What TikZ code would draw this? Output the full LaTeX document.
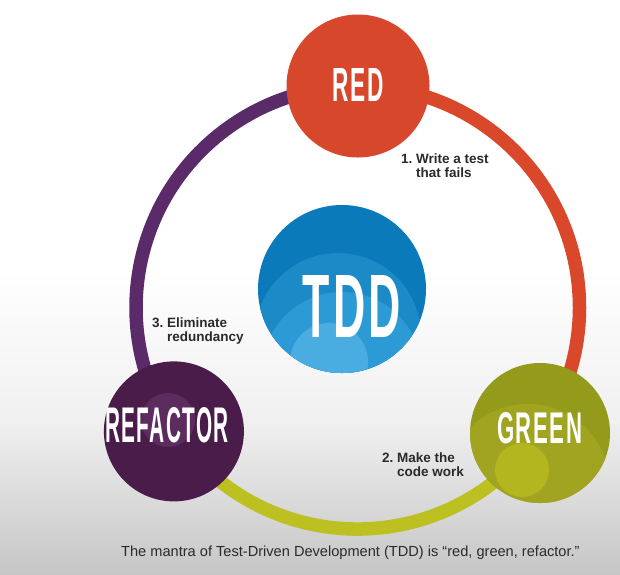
\documentclass[tikz,border=0pt]{standalone}
\usepackage{fontspec}
\setmainfont{Liberation Sans}
\newfontfamily\headfont[LetterSpace=7]{Liberation Sans}
\definecolor{bggray}{HTML}{C6C6C6}
\definecolor{bgmid}{HTML}{F0F0F0}
\definecolor{redc}{HTML}{D6472B}
\definecolor{ringorange}{HTML}{D9482A}
\definecolor{ringyellow}{HTML}{BDC021}
\definecolor{ringpurple}{HTML}{5A2B68}
\definecolor{refc}{HTML}{4A1C4A}
\definecolor{refin}{HTML}{5B2C5D}
\definecolor{greenc}{HTML}{949A1A}
\definecolor{greenl}{HTML}{A0A421}
\definecolor{greenin}{HTML}{B3B61F}
\definecolor{tdda}{HTML}{0A7ABA}
\definecolor{tddb}{HTML}{1B8AC7}
\definecolor{tddc}{HTML}{2C9AD4}
\definecolor{tddd}{HTML}{4AADE2}
\definecolor{labelgray}{HTML}{2A2A2A}
\newcommand\headtext[3]{\resizebox{#1pt}{#2pt}{\headfont\bfseries #3}}
\begin{document}
\begin{tikzpicture}[x=1pt,y=-1pt,
  ringline/.style={line width=13.5pt},
  bigdot/.style={circle, inner sep=0pt, draw=none},
  headtxt/.style={text=white, inner sep=0pt, anchor=base},
  lbl/.style={font=\fontsize{13.5}{14.5}\selectfont\bfseries, text=labelgray, inner sep=0pt, anchor=base west, align=left}]
\useasboundingbox (0,0) rectangle (620,574);
% background
\fill[white] (0,0) rectangle (620,270);
\shade[top color=white, bottom color=bggray, middle color=bgmid] (0,269) rectangle (620,574);
% node positions
\coordinate (redp) at (358,86);
\coordinate (greenp) at (540,433);
\coordinate (refp) at (173.9,431.4);
% ring
\draw[ringline, ringorange] (redp) arc[start angle=90, end angle=-34.5, radius=221.5pt];
\draw[ringline, ringyellow] (greenp) arc[start angle=-34.5, end angle=-146, radius=221.5pt];
\draw[ringline, ringpurple] (refp) arc[start angle=214, end angle=90, radius=221.5pt];
% red
\node[bigdot, fill=redc, minimum size=143pt] (red) at (redp) {};
\node[headtxt] (redtxt) at (358,101) {\headtext{51}{33}{RED}};
% refactor
\node[bigdot, fill=refc, minimum size=140pt] (refactor) at (refp) {};
\begin{scope}
\clip (refactor.center) circle[radius=70pt];
\fill[refin] (168,420) circle[radius=27pt];
\end{scope}
\node[headtxt] (reftxt) at (167,442) {\headtext{124}{35}{REFACTOR}};
% green
\node[bigdot, fill=greenc, minimum size=140pt] (green) at (greenp) {};
\begin{scope}
\clip (green.center) circle[radius=70pt];
\fill[greenl] (528,486) circle[radius=82pt];
\fill[greenin] (522,470) circle[radius=27pt];
\end{scope}
\node[headtxt] (greentxt) at (539.5,443) {\headtext{85}{31}{GREEN}};
% TDD
\node[bigdot, fill=tdda, minimum size=168pt] (tdd) at (342,289) {};
\begin{scope}
\clip (tdd.center) circle[radius=84pt];
\fill[tddb] (338,336) circle[radius=83pt];
\fill[tddc] (342,372) circle[radius=80pt];
\fill[tddd] (329,362) circle[radius=39pt];
\end{scope}
\node[headtxt] (tddtxt) at (352,337) {\headtext{98}{62}{TDD}};
% labels
\node[lbl] (l1) at (401,163) {1.\ \begin{tabular}[t]{@{}l@{}}Write a test\\that fails\end{tabular}};
\node[lbl] (l2) at (382,462) {2.\ \begin{tabular}[t]{@{}l@{}}Make the\\code work\end{tabular}};
\node[lbl] (l3) at (152,327) {3.\ \begin{tabular}[t]{@{}l@{}}Eliminate\\redundancy\end{tabular}};
% caption
\node[inner sep=0pt, anchor=base west, text=labelgray, font=\fontsize{14.6}{16}\selectfont] (cap) at (121,556) {The mantra of Test-Driven Development (TDD) is “red, green, refactor.”};
\end{tikzpicture}
\end{document}
